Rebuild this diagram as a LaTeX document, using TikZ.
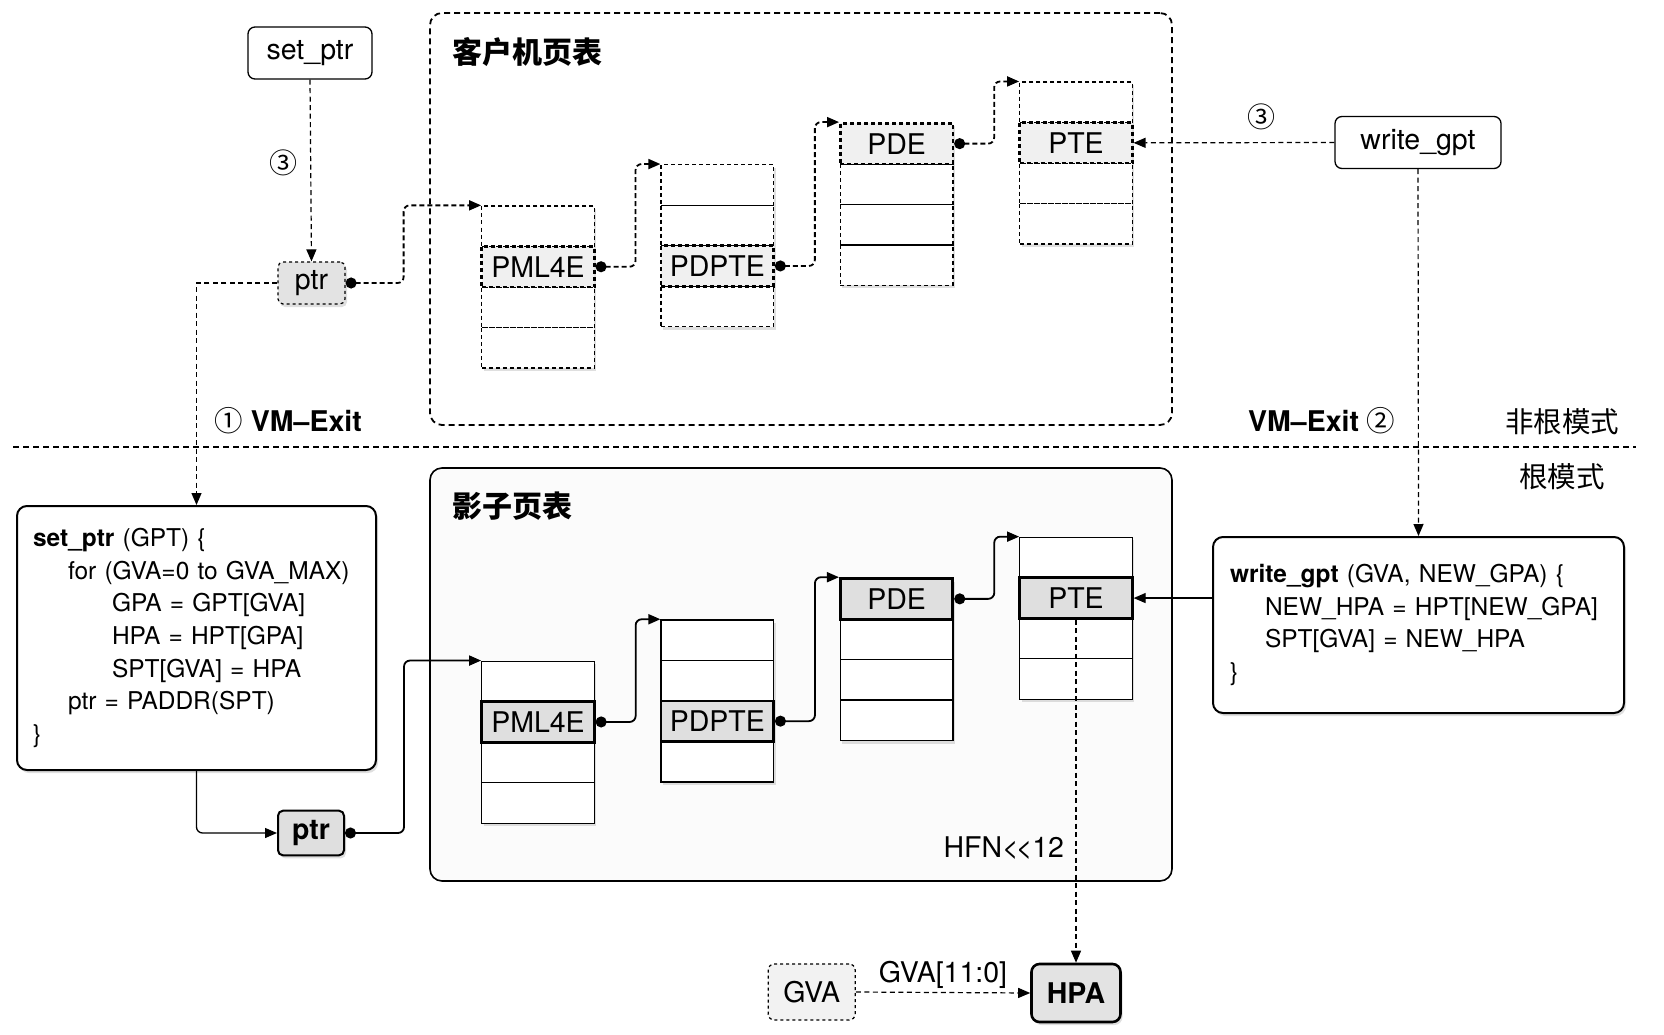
\documentclass[tikz,border=0pt]{standalone}
\usepackage{fontspec}
\setmainfont{TeX Gyre Heros}
\newfontfamily\cjk{Noto Sans CJK SC}
\usetikzlibrary{arrows.meta,shadows}
\tikzset{
  shade/.style={drop shadow={opacity=.25, shadow xshift=2pt, shadow yshift=-3pt}},
  cell/.style={draw, minimum width=112.5pt, minimum height=40.5pt, inner sep=0pt, line width=1.3pt},
  gcell/.style={cell, dash pattern=on 4pt off 3pt},
  gsel/.style={gcell, line width=2.6pt, fill=gray!12},
  scell/.style={cell, fill=white},
  ssel/.style={cell, line width=2.8pt, fill=gray!25},
  tabbg/.style={fill=white, shade},
  topbox/.style={draw, line width=1.3pt, rounded corners=7pt, fill=white, minimum height=52pt},
  codebox/.style={draw, line width=2pt, rounded corners=10pt, fill=white, inner sep=0pt, align=left, font=\fontsize{24.5}{32.7}\selectfont, shade},
  ptitle/.style={anchor=west, font=\cjk\bfseries\fontsize{30}{36}\selectfont},
  circ/.style={font=\cjk\fontsize{28}{32}\selectfont},
  gconn/.style={{Circle[length=11pt]}-{Triangle[length=12pt,width=10pt]}, line width=1.8pt, dash pattern=on 5pt off 3pt, rounded corners=6pt},
  sconn/.style={{Circle[length=11pt]}-{Triangle[length=12pt,width=10pt]}, line width=1.8pt, rounded corners=6pt},
  tdash/.style={-{Triangle[length=12pt,width=10pt]}, line width=1.2pt, dash pattern=on 5pt off 3.5pt},
  tsolid/.style={-{Triangle[length=12pt,width=10pt]}, line width=1.3pt, rounded corners=6pt}
}
\begin{document}
\begin{tikzpicture}[x=1pt, y=-1pt, font=\fontsize{28.5}{33}\selectfont]
\useasboundingbox (0,0) rectangle (1664,1035);
\node[draw, line width=1.8pt, dash pattern=on 6pt off 4pt, rounded corners=12pt, minimum width=742pt, minimum height=412pt] (gframe) at (801,219) {};
\node[draw, line width=1.6pt, rounded corners=12pt, fill=gray!3, minimum width=742pt, minimum height=413pt] (sframe) at (801,674.5) {};
\node[ptitle] (gtitle) at (449,52) {客户机页表};
\node[ptitle] (stitle) at (449,506) {影子页表};
\draw[line width=1.3pt, dash pattern=on 6pt off 4pt] (13,447) -- (1636,447);
\node (nonroot) at (1562,421.7) {\cjk 非根模式};
\node (root) at (1562,476.7) {\cjk 根模式};
\node[anchor=west] (exit1) at (211,421) {{\cjk ①} {\bfseries VM–Exit}};
\node[anchor=east] (exit2) at (1399,421) {{\bfseries VM–Exit} {\cjk ②}};
\foreach \tn/\xc/\yt/\hk/\lab in {gpml/538/206/2/PML4E, gpdpt/717.3/164.7/3/PDPTE, gpd/896.6/123.4/1/PDE, gpte/1076/82.1/2/PTE}{
  \path[tabbg] (\xc-56.25,\yt) rectangle ++(112.5,162);
  \foreach \r in {1,...,4}{\ifnum\r=\hk\else\node[gcell] (\tn\r) at (\xc,\yt+40.5*\r-20.25) {};\fi}
  \node[gsel] (\tn\hk) at (\xc,\yt+40.5*\hk-20.25) {\lab};
}
\foreach \tn/\xc/\yt/\hk/\lab in {spml/538/661.2/2/PML4E, spdpt/717.3/619.9/3/PDPTE, spd/896.6/578.6/1/PDE, spte/1076/537.3/2/PTE}{
  \path[tabbg] (\xc-56.25,\yt) rectangle ++(112.5,162);
  \foreach \r in {1,...,4}{\ifnum\r=\hk\else\node[scell] (\tn\r) at (\xc,\yt+40.5*\r-20.25) {};\fi}
  \node[ssel] (\tn\hk) at (\xc,\yt+40.5*\hk-20.25) {\lab};
}
\node[topbox, minimum width=124pt] (setp) at (310,53) {set\_ptr};
\node[topbox, minimum width=166pt] (wgpt) at (1418,142.5) {write\_gpt};
\node[draw, dashed, line width=1.2pt, rounded corners=5pt, fill=gray!22, minimum width=67pt, minimum height=42pt, shade] (gptr) at (311.5,283) {ptr};
\node[draw, line width=2pt, rounded corners=5pt, fill=gray!25, minimum width=66pt, minimum height=44.6pt, shade] (sptr) at (311,833) {\bfseries ptr};
\node[codebox, minimum width=359pt, minimum height=264pt, text width=327pt] (setcode) at (196.5,638) {{\bfseries set\_ptr} (GPT) \{\\
\hspace*{35pt}for (GVA=0 to GVA\_MAX)\\
\hspace*{79pt}GPA = GPT[GVA]\\
\hspace*{79pt}HPA = HPT[GPA]\\
\hspace*{79pt}SPT[GVA] = HPA\\
\hspace*{35pt}ptr = PADDR(SPT)\\
\}};
\node[codebox, minimum width=411pt, minimum height=176pt, text width=377pt] (wcode) at (1418.5,625) {{\bfseries write\_gpt} (GVA, NEW\_GPA) \{\\
\hspace*{35pt}NEW\_HPA = HPT[NEW\_GPA]\\
\hspace*{35pt}SPT[GVA] = NEW\_HPA\\
\}};
\node[draw, dashed, line width=1.2pt, rounded corners=6pt, fill=gray!10, minimum width=87pt, minimum height=56pt] (gva) at (811.7,992) {GVA};
\node[draw, line width=2.6pt, rounded corners=8pt, fill=gray!22, minimum width=89pt, minimum height=58pt, shade] (hpa) at (1076,993) {\bfseries HPA};
\draw[gconn] (gptr.east) -- ++(58,0) |- (gpml1.north west);
\draw[gconn] (gpml2.east) -- ++(40,0) |- (gpdpt1.north west);
\draw[gconn] (gpdpt3.east) -- ++(40,0) |- (gpd1.north west);
\draw[gconn] (gpd1.east) -- ++(40,0) |- (gpte1.north west);
\draw[sconn] (sptr.east) -- ++(59,0) |- (spml1.north west);
\draw[sconn] (spml2.east) -- ++(40,0) |- (spdpt1.north west);
\draw[sconn] (spdpt3.east) -- ++(40,0) |- (spd1.north west);
\draw[sconn] (spd1.east) -- ++(40,0) |- (spte1.north west);
\draw[tdash] (setp.south) -- node[circ, pos=.46, left=9pt] (num3a) {③} (gptr.north);
\draw[tdash] (gptr.west) -| (setcode.north);
\draw[tdash] (wgpt.west) -- node[circ, pos=.365, above=9pt] (num3b) {③} (gpte2.east);
\draw[tdash] (wgpt.south) -- (wcode.north);
\draw[tsolid] (setcode.south) |- (sptr.west);
\draw[tsolid] (spte2.east -| wcode.west) -- (spte2.east);
\draw[tdash] (spte2.south) -- node[pos=.665, left=8pt] (hfn) {HFN<\kern-3pt<12} (hpa.north);
\draw[tdash] (gva.east) -- node[above] (gvabits) {GVA[11:0]} (hpa.west);
\end{tikzpicture}
\end{document}
